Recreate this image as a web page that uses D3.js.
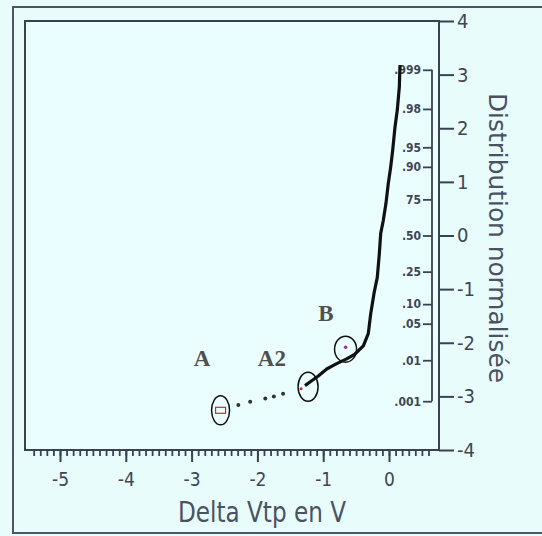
<!DOCTYPE html>
<html>
<head>
<meta charset="utf-8">
<script src="https://cdn.jsdelivr.net/npm/d3@7"></script>
<style>
  html, body { margin: 0; padding: 0; background: #e8fcfc; }
  svg { display: block; }
  .narrow { font-family: "Liberation Sans Narrow", "DejaVu Sans Condensed", "DejaVu Sans", sans-serif; font-stretch: condensed; }
</style>
</head>
<body>
<svg id="chart" width="542" height="536"></svg>
<script>
// ---- data ----
const xTickValues = [-5, -4, -3, -2, -1, 0];
const xMinorStart = -5.4, xMinorEnd = 0.6;
const zTickValues = [4, 3, 2, 1, 0, -1, -2, -3, -4];
const probLabels = [".999", ".98", ".95", ".90", "75", ".50", ".25", ".10", ".05", ".01", ".001"];
const probZ      = [3.09, 2.36, 1.645, 1.28, 0.674, 0, -0.674, -1.28, -1.645, -2.326, -3.09];

// main measured curve (Delta Vtp, normal quantile)
const curveV = [-1.277, -1.175, -1.074, -0.947, -0.795, -0.643, -0.517, -0.39, -0.315, -0.278, -0.228, -0.178, -0.147, -0.126, -0.087, -0.046, -0.011, 0.026, 0.056, 0.091, 0.126, 0.157, 0.167];
const curveZ = [-2.80, -2.71, -2.62, -2.49, -2.39, -2.30, -2.21, -2.06, -1.83, -1.46, -1.08, -0.78, -0.34, 0.04, 0.28, 0.60, 0.97, 1.28, 1.59, 2.02, 2.34, 2.77, 3.18];
// isolated points between A and A2
const dotV = [-2.29, -2.11, -1.88, -1.75, -1.61];
const dotZ = [-3.16, -3.10, -3.04, -3.00, -2.95];
// circled points
const markNames = ["A", "A2", "B"];
const markV = [-2.56, -1.23, -0.66];
const markZ = [-3.26, -2.82, -2.12];
// annotation letters
const labelText = ["A", "A2", "B"];
const labelV = [-2.84, -1.78, -0.96];
const labelZ = [-2.43, -2.43, -1.59];

const xTitle = "Delta Vtp en V";
const yTitle = "Distribution normalisée";

// ---- layout ----
const svg = d3.select("#chart");
const plotL = 25, plotT = 21, plotR = 439, plotB = 450;
const axisColor = "#3a4150";
const textColor = "#3e4654";

const x = d3.scaleLinear().domain([-5, 0]).range([60, 389]);
const y = d3.scaleLinear().domain([-4, 4]).range([plotB, plotT]);

// outer frame
svg.append("rect").attr("x", 13).attr("y", 7).attr("width", 540).attr("height", 526)
  .attr("fill", "#e8fcfc").attr("stroke", "#4c5568").attr("stroke-width", 2);

// inner frame
svg.append("rect").attr("x", plotL).attr("y", plotT).attr("width", plotR - plotL).attr("height", plotB - plotT)
  .attr("fill", "#ebfeff").attr("stroke", axisColor).attr("stroke-width", 2);

// bottom axis: minor ticks
const minor = d3.range(Math.round(xMinorStart * 10), Math.round(xMinorEnd * 10) + 1).map(d => d / 10);
const gMinor = svg.append("g").attr("transform", `translate(0,${plotB})`)
  .call(d3.axisBottom(x).tickValues(minor).tickSize(6).tickFormat(""));
gMinor.select(".domain").remove();
gMinor.selectAll("line").attr("stroke", axisColor).attr("stroke-width", 1.8);

const gx = svg.append("g").attr("transform", `translate(0,${plotB})`)
  .call(d3.axisBottom(x).tickValues(xTickValues).tickSize(12).tickFormat(d => String(d)));
gx.select(".domain").remove();
gx.selectAll("line").attr("stroke", axisColor).attr("stroke-width", 2);
gx.selectAll("text").attr("class", "narrow").attr("y", 36).attr("dy", 0)
  .attr("font-size", 19).attr("fill", textColor);

// right axis (normal quantile)
const gz = svg.append("g").attr("transform", `translate(${plotR},0)`)
  .call(d3.axisRight(y).tickValues(zTickValues).tickSize(15).tickPadding(3).tickFormat(d => String(d)));
gz.select(".domain").remove();
gz.selectAll("line").attr("stroke", axisColor).attr("stroke-width", 2);
gz.selectAll("text").attr("class", "narrow").attr("font-size", 20).attr("fill", textColor);
svg.append("line").attr("x1", plotR).attr("x2", plotR).attr("y1", plotT - 1).attr("y2", plotB + 1)
  .attr("stroke", axisColor).attr("stroke-width", 2);

// probability axis
const probX = 432;
const gp = svg.append("g").attr("transform", `translate(${probX},0)`)
  .call(d3.axisLeft(y).tickValues(probZ).tickSize(9).tickPadding(2).tickFormat((d, i) => probLabels[i]));
gp.select(".domain").remove();
gp.selectAll("line").attr("stroke", axisColor).attr("stroke-width", 1.8);
gp.selectAll("text").attr("class", "narrow").attr("font-size", 12).attr("font-weight", "bold").attr("fill", textColor);
svg.append("line").attr("x1", probX).attr("x2", probX)
  .attr("y1", y(d3.max(probZ))).attr("y2", y(d3.min(probZ)))
  .attr("stroke", axisColor).attr("stroke-width", 1.8);

// axis titles
svg.append("text").attr("class", "narrow").attr("x", 262).attr("y", 522)
  .attr("text-anchor", "middle").attr("font-size", 28)
  .attr("textLength", 168).attr("lengthAdjust", "spacingAndGlyphs")
  .attr("fill", "#4a5262").text(xTitle);
svg.append("text").attr("class", "narrow")
  .attr("transform", "translate(489,238) rotate(90)")
  .attr("text-anchor", "middle").attr("font-size", 25)
  .attr("textLength", 290).attr("lengthAdjust", "spacingAndGlyphs")
  .attr("fill", "#4a5262").text(yTitle);

// data
const curve = curveV.map((v, i) => [v, curveZ[i]]);
svg.append("path").datum(curve)
  .attr("d", d3.line().x(d => x(d[0])).y(d => y(d[1])))
  .attr("fill", "none").attr("stroke", "#111").attr("stroke-width", 3.2)
  .attr("stroke-linejoin", "round");

svg.append("g").selectAll("circle").data(dotV.map((v, i) => [v, dotZ[i]])).join("circle")
  .attr("cx", d => x(d[0])).attr("cy", d => y(d[1])).attr("r", 2).attr("fill", "#333");

const marks = markNames.map((n, i) => ({ n, v: markV[i], z: markZ[i] }));
const rx = { A: 9, A2: 10, B: 11 }, ry = { A: 14.5, A2: 14.5, B: 13 };
svg.append("g").selectAll("ellipse").data(marks).join("ellipse")
  .attr("cx", d => x(d.v)).attr("cy", d => y(d.z))
  .attr("rx", d => rx[d.n]).attr("ry", d => ry[d.n])
  .attr("fill", "none").attr("stroke", "#111").attr("stroke-width", 1.5);
svg.append("rect").attr("x", x(markV[0]) - 5).attr("y", y(markZ[0]) - 3).attr("width", 10).attr("height", 6)
  .attr("fill", "none").attr("stroke", "#c03030").attr("stroke-width", 1.2);
svg.append("circle").attr("cx", x(markV[1]) - 7).attr("cy", y(markZ[1]) + 2).attr("r", 1.5).attr("fill", "#c03030");
svg.append("circle").attr("cx", x(markV[2])).attr("cy", y(markZ[2]) - 2).attr("r", 1.8).attr("fill", "#a03090");

// letters
svg.append("g").selectAll("text").data(labelText.map((t, i) => ({ t, v: labelV[i], z: labelZ[i] }))).join("text")
  .attr("x", d => x(d.v)).attr("y", d => y(d.z))
  .attr("text-anchor", "middle")
  .attr("font-family", "'Liberation Serif', 'DejaVu Serif', serif")
  .attr("font-size", 23).attr("font-weight", "bold").attr("fill", "#505050").text(d => d.t);
</script>
</body>
</html>
